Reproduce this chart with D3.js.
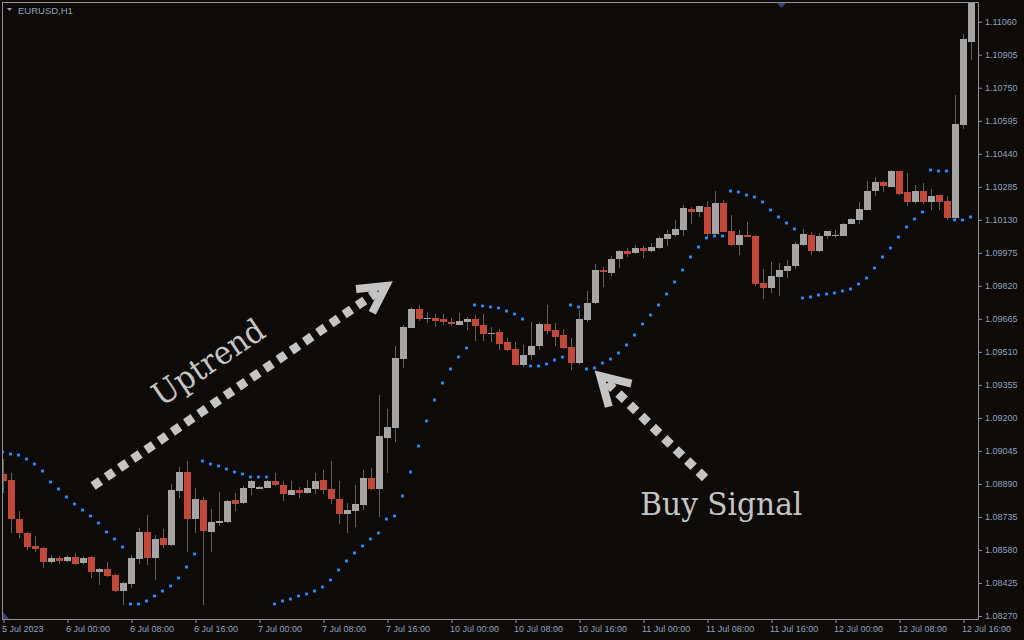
<!DOCTYPE html>
<html>
<head>
<meta charset="utf-8">
<script src="https://cdn.jsdelivr.net/npm/d3@7"></script>
<style>
body { margin: 0; background: #0d0a08; }
svg { display: block; }
</style>
</head>
<body>
<div id="chart"></div>
<script>
// EURUSD H1, one bar per hour from 5 Jul 16:00 to 12 Jul 17:00
const open = [
1.08937,1.08908,1.08725,1.08660,1.08599,1.08589,1.08523,1.08542,1.08528,1.08547,
1.08519,1.08547,1.08477,1.08491,1.08462,1.08387,1.08420,1.08538,1.08664,1.08542,
1.08636,1.08603,1.08857,1.08946,1.08725,1.08815,1.08664,1.08707,1.08711,1.08815,
1.08800,1.08871,1.08866,1.08871,1.08904,1.08885,1.08838,1.08861,1.08847,1.08866,
1.08908,1.08866,1.08819,1.08749,1.08763,1.08791,1.08918,1.08866,1.09106,1.09152,
1.09476,1.09622,1.09711,1.09664,1.09669,1.09664,1.09650,1.09636,1.09650,1.09664,
1.09636,1.09594,1.09603,1.09556,1.09523,1.09448,1.09495,1.09537,1.09641,1.09612,
1.09589,1.09533,1.09458,1.09659,1.09739,1.09894,1.09880,1.09946,1.09983,1.09974,
1.09997,1.09983,1.09997,1.10040,1.10058,1.10082,1.10180,1.10166,1.10190,1.10063,
1.10209,1.10077,1.10011,1.10058,1.10054,1.09833,1.09810,1.09861,1.09889,1.09913,
1.10011,1.10058,1.09983,1.10054,1.10054,1.10054,1.10110,1.10129,1.10176,1.10265,
1.10307,1.10284,1.10359,1.10260,1.10213,1.10265,1.10213,1.10246,1.10218,1.10138,
1.10575,1.10969];
const high = [
1.09007,1.08941,1.08763,1.08664,1.08646,1.08592,1.08556,1.08552,1.08556,1.08566,
1.08552,1.08552,1.08495,1.08523,1.08465,1.08430,1.08556,1.08683,1.08744,1.08650,
1.08678,1.08890,1.08969,1.08998,1.08871,1.08829,1.08772,1.08852,1.08816,1.08847,
1.08880,1.08908,1.08880,1.08910,1.08941,1.08906,1.08904,1.08876,1.08908,1.08941,
1.08955,1.08998,1.08904,1.08800,1.08885,1.08955,1.08965,1.09307,1.09242,1.09537,
1.09636,1.09720,1.09730,1.09697,1.09688,1.09688,1.09669,1.09692,1.09674,1.09683,
1.09688,1.09627,1.09617,1.09575,1.09556,1.09542,1.09650,1.09652,1.09730,1.09645,
1.09617,1.09575,1.09706,1.09796,1.09922,1.09908,1.09960,1.09988,1.09997,1.10011,
1.10007,1.10021,1.10054,1.10082,1.10129,1.10199,1.10190,1.10197,1.10218,1.10265,
1.10223,1.10152,1.10082,1.10119,1.10060,1.09899,1.09932,1.09927,1.09941,1.10026,
1.10087,1.10073,1.10068,1.10079,1.10082,1.10115,1.10138,1.10213,1.10312,1.10331,
1.10312,1.10364,1.10361,1.10349,1.10293,1.10303,1.10274,1.10248,1.10241,1.10716,
1.11002,1.11170];
const low = [
1.08847,1.08660,1.08636,1.08580,1.08570,1.08495,1.08514,1.08514,1.08523,1.08509,
1.08509,1.08448,1.08416,1.08453,1.08385,1.08322,1.08401,1.08514,1.08509,1.08439,
1.08589,1.08599,1.08824,1.08570,1.08660,1.08322,1.08570,1.08692,1.08705,1.08763,
1.08798,1.08838,1.08864,1.08869,1.08880,1.08810,1.08836,1.08824,1.08845,1.08843,
1.08845,1.08796,1.08702,1.08660,1.08688,1.08768,1.08861,1.08735,1.08941,1.09087,
1.09434,1.09620,1.09655,1.09645,1.09627,1.09636,1.09631,1.09634,1.09612,1.09561,
1.09561,1.09556,1.09519,1.09514,1.09446,1.09439,1.09472,1.09519,1.09594,1.09537,
1.09523,1.09425,1.09448,1.09650,1.09735,1.09814,1.09866,1.09904,1.09955,1.09969,
1.09950,1.09979,1.09995,1.10007,1.10049,1.10054,1.10110,1.10143,1.10049,1.10061,
1.10071,1.10009,1.09965,1.10047,1.09819,1.09758,1.09786,1.09772,1.09857,1.09899,
1.10007,1.09965,1.09979,1.10040,1.10044,1.10052,1.10108,1.10110,1.10174,1.10241,
1.10260,1.10282,1.10246,1.10195,1.10204,1.10204,1.10174,1.10174,1.10129,1.10129,
1.10556,1.10880];
const close = [
1.08904,1.08725,1.08660,1.08594,1.08585,1.08523,1.08542,1.08528,1.08547,1.08514,
1.08542,1.08477,1.08491,1.08458,1.08387,1.08425,1.08542,1.08664,1.08542,1.08631,
1.08603,1.08861,1.08946,1.08725,1.08819,1.08669,1.08711,1.08716,1.08810,1.08796,
1.08871,1.08904,1.08876,1.08904,1.08885,1.08843,1.08861,1.08847,1.08871,1.08904,
1.08861,1.08819,1.08749,1.08768,1.08796,1.08918,1.08866,1.09115,1.09157,1.09481,
1.09627,1.09711,1.09664,1.09669,1.09655,1.09650,1.09641,1.09655,1.09664,1.09631,
1.09594,1.09598,1.09547,1.09519,1.09448,1.09495,1.09537,1.09641,1.09608,1.09580,
1.09528,1.09458,1.09664,1.09739,1.09894,1.09885,1.09946,1.09983,1.09969,1.09997,
1.09983,1.10002,1.10044,1.10063,1.10087,1.10185,1.10166,1.10195,1.10063,1.10209,
1.10073,1.10011,1.10058,1.10049,1.09828,1.09810,1.09866,1.09894,1.09913,1.10016,
1.10063,1.09983,1.10054,1.10077,1.10058,1.10110,1.10134,1.10180,1.10265,1.10307,
1.10288,1.10359,1.10251,1.10213,1.10265,1.10213,1.10241,1.10213,1.10138,1.10579,
1.10978,1.11150];
// Parabolic SAR value for every bar
const sar = [
1.09040,1.09030,1.09026,1.09007,1.08983,1.08951,1.08899,1.08866,1.08829,1.08796,
1.08768,1.08739,1.08707,1.08664,1.08631,1.08594,1.08326,1.08326,1.08340,1.08364,
1.08387,1.08411,1.08448,1.08500,1.08561,1.08998,1.08983,1.08974,1.08960,1.08946,
1.08937,1.08922,1.08922,1.08922,1.08326,1.08340,1.08350,1.08364,1.08373,1.08387,
1.08406,1.08439,1.08486,1.08528,1.08566,1.08599,1.08631,1.08660,1.08725,1.08739,
1.08833,1.08946,1.09068,1.09185,1.09284,1.09364,1.09429,1.09486,1.09528,1.09730,
1.09725,1.09720,1.09716,1.09702,1.09688,1.09664,1.09444,1.09444,1.09453,1.09472,
1.09486,1.09730,1.09720,1.09429,1.09434,1.09458,1.09476,1.09505,1.09542,1.09589,
1.09641,1.09683,1.09730,1.09781,1.09838,1.09894,1.09955,1.10002,1.10044,1.10054,
1.10054,1.10265,1.10260,1.10246,1.10237,1.10213,1.10176,1.10143,1.10115,1.10087,
1.09763,1.09767,1.09777,1.09781,1.09786,1.09796,1.09805,1.09828,1.09857,1.09904,
1.09955,1.09997,1.10049,1.10096,1.10134,1.10166,1.10364,1.10359,1.10359,1.10129,
1.10129,1.10143];

const priceTicks = [1.08270,1.08425,1.08580,1.08735,1.08890,1.09045,1.09200,1.09355,1.09510,
  1.09665,1.09820,1.09975,1.10130,1.10285,1.10440,1.10595,1.10750,1.10905,1.11060];
const timeTickIdx = [0,8,16,24,32,40,48,56,64,72,80,88,96,104,112,120];
const timeTickLabels = ["5 Jul 2023","6 Jul 00:00","6 Jul 08:00","6 Jul 16:00","7 Jul 00:00",
  "7 Jul 08:00","7 Jul 16:00","10 Jul 00:00","10 Jul 08:00","10 Jul 16:00","11 Jul 00:00",
  "11 Jul 08:00","11 Jul 16:00","12 Jul 00:00","12 Jul 08:00","12 Jul 16:00"];

// annotations, placed in bar index / price
const uptrendArrow = {fromI: 11.2, fromP: 1.08880, toI: 47.8, toP: 1.09819};
const buyArrow = {fromI: 87.7, fromP: 1.08918, toI: 74.6, toP: 1.09397};
const uptrendLabel = {i: 25.6, p: 1.09462, text: "Uptrend"};
const buyLabel = {i: 79.6, p: 1.08744, text: "Buy Signal"};

const width = 1024;
const height = 640;
const plotLeft = 2, plotTop = 2, plotRight = 978, plotBottom = 619;
const bg = "#0d0a08";
const frameColor = "#8c919b";
const textColor = "#91a1bd";
const annColor = "#c4c4c4";

const svg = d3.select("#chart").append("svg")
    .attr("width", width)
    .attr("height", height);

svg.append("rect").attr("width", width).attr("height", height).attr("fill", bg);

svg.append("clipPath").attr("id", "plotClip")
  .append("rect")
    .attr("x", plotLeft + 0.5).attr("y", plotTop + 0.5)
    .attr("width", plotRight - plotLeft - 0.5)
    .attr("height", plotBottom - plotTop - 0.5);

//----------------------------SCALES----------------------------//
const x = d3.scaleLinear()
    .domain([0, open.length - 1])
    .range([3.5, 3.5 + 8 * (open.length - 1)]);
const y = d3.scaleLinear()
    .domain([1.08270, 1.11060])
    .range([616, 21.7]);

const bars = open.map((o, i) => ({i: i, o: o, h: high[i], l: low[i], c: close[i], s: sar[i]}));

//----------------------------CANDLES---------------------------//
const plot = svg.append("g").attr("clip-path", "url(#plotClip)");

plot.selectAll(".wick")
  .data(bars)
  .enter().append("line")
    .attr("class", "wick")
    .attr("x1", d => x(d.i)).attr("x2", d => x(d.i))
    .attr("y1", d => Math.round(y(d.h))).attr("y2", d => Math.round(y(d.l)))
    .attr("stroke", "#5f5f5f")
    .attr("stroke-width", 1);

plot.selectAll(".body")
  .data(bars)
  .enter().append("rect")
    .attr("class", "body")
    .attr("x", d => x(d.i) - 3.5)
    .attr("width", 7)
    .attr("y", d => Math.round(y(Math.max(d.o, d.c))))
    .attr("height", d => Math.max(1, Math.round(Math.abs(y(d.o) - y(d.c)))))
    .attr("fill", d => d.c >= d.o ? "#a4a4a4" : "#c2483a");

//----------------------------SAR DOTS--------------------------//
plot.selectAll(".sar")
  .data(bars)
  .enter().append("rect")
    .attr("class", "sar")
    .attr("x", d => x(d.i) - 2.5)
    .attr("y", d => Math.round(y(d.s)) - 1.5)
    .attr("width", 3).attr("height", 3)
    .attr("rx", 0.8)
    .attr("fill", "#1e8fff");

//----------------------------ANNOTATIONS-----------------------//
const ann = svg.append("g").attr("clip-path", "url(#plotClip)");

function drawArrow(a, headLen, headAng) {
  const x0 = x(a.fromI), y0 = y(a.fromP), x1 = x(a.toI), y1 = y(a.toP);
  const ang = Math.atan2(y1 - y0, x1 - x0);
  ann.append("line")
    .attr("x1", x0).attr("y1", y0)
    .attr("x2", x1 - 10 * Math.cos(ang)).attr("y2", y1 - 10 * Math.sin(ang))
    .attr("stroke", annColor)
    .attr("stroke-width", 9)
    .attr("stroke-dasharray", "9 7");
  const back = ang + Math.PI;
  const ax = x1 + headLen * Math.cos(back - headAng), ay = y1 + headLen * Math.sin(back - headAng);
  const bx = x1 + headLen * Math.cos(back + headAng), by = y1 + headLen * Math.sin(back + headAng);
  ann.append("path")
    .attr("d", "M" + ax + "," + ay + "L" + x1 + "," + y1 + "L" + bx + "," + by)
    .attr("fill", "none")
    .attr("stroke", annColor)
    .attr("stroke-width", 8)
    .attr("stroke-linejoin", "miter");
}
drawArrow(uptrendArrow, 30, 0.5);
drawArrow(buyArrow, 32, 0.53);

ann.append("text")
    .attr("transform", "translate(" + x(uptrendLabel.i) + "," + y(uptrendLabel.p) + ") rotate(-34)")
    .attr("text-anchor", "middle")
    .attr("dy", "0.35em")
    .style("font-family", "'DejaVu Serif', serif")
    .style("font-size", "32px")
    .attr("fill", annColor)
    .attr("textLength", 128)
    .attr("lengthAdjust", "spacingAndGlyphs")
    .text(uptrendLabel.text);

ann.append("text")
    .attr("x", x(buyLabel.i))
    .attr("y", y(buyLabel.p))
    .style("font-family", "'DejaVu Serif', serif")
    .style("font-size", "32px")
    .attr("fill", annColor)
    .attr("textLength", 162)
    .attr("lengthAdjust", "spacingAndGlyphs")
    .text(buyLabel.text);

//-----------------------------AXES-----------------------------//
const yAxis = d3.axisRight(y)
    .tickValues(priceTicks)
    .tickSize(4)
    .tickSizeOuter(0)
    .tickPadding(3)
    .tickFormat(d3.format(".5f"));

const gy = svg.append("g")
    .attr("transform", "translate(" + plotRight + ",0)")
    .call(yAxis);
gy.select(".domain").remove();

const xAxis = d3.axisBottom(x)
    .tickValues(timeTickIdx)
    .tickSize(4)
    .tickSizeOuter(0)
    .tickPadding(3)
    .tickFormat((d, i) => timeTickLabels[i]);

const gx = svg.append("g")
    .attr("transform", "translate(0," + plotBottom + ")")
    .call(xAxis);
gx.select(".domain").remove();
gx.selectAll("text").attr("text-anchor", "start").attr("dx", -2);

[gx, gy].forEach(g => {
  g.selectAll("line").attr("stroke", frameColor);
  g.selectAll("text")
    .attr("fill", textColor)
    .style("font-family", "'Liberation Sans', Arial, sans-serif")
    .style("font-size", "9px");
});

// frame
svg.append("path")
    .attr("d", "M" + (plotLeft + 0.5) + "," + (plotBottom + 0.5) + "V" + (plotTop + 0.5) +
               "H" + (plotRight + 0.5) + "V" + (plotBottom + 0.5) + "H" + (plotLeft + 0.5))
    .attr("fill", "none")
    .attr("stroke", frameColor)
    .attr("stroke-width", 1);

// small markers of the terminal
svg.append("path").attr("d", "M777,3L786,3L781.5,8Z").attr("fill", "#3b4270");
svg.append("path").attr("d", "M3,612L3,619L9,619Z").attr("fill", "#3b4270");

// title
svg.append("path").attr("d", "M7,8L12,8L9.5,11Z").attr("fill", textColor);
svg.append("text")
    .attr("x", 18).attr("y", 14)
    .attr("fill", textColor)
    .style("font-family", "'Liberation Sans', Arial, sans-serif")
    .style("font-size", "9.5px")
    .text("EURUSD,H1");
</script>
</body>
</html>
